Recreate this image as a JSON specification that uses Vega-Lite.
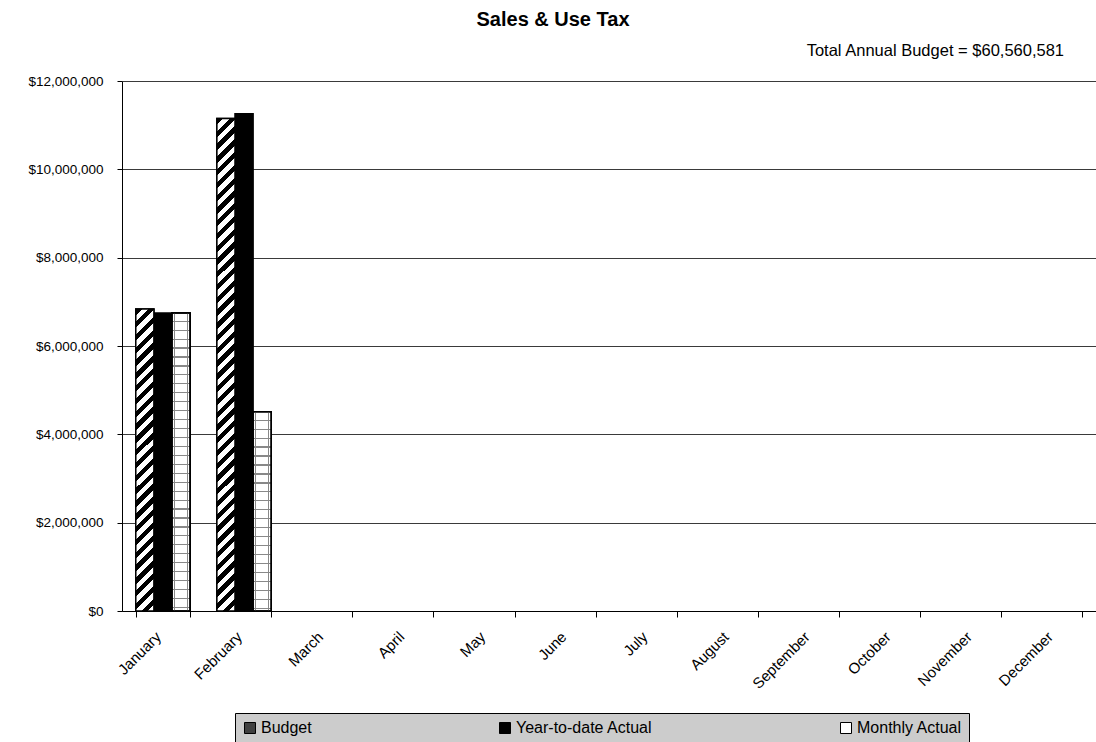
{
  "$schema": "https://vega.github.io/schema/vega-lite/v6.json",
  "width": 974,
  "height": 530,
  "autosize": {"type": "none"},
  "padding": {"left": 122, "top": 81, "right": 0, "bottom": 131},
  "background": "white",
  "config": {
    "view": {"stroke": null},
    "font": "Liberation Sans",
    "axisX": {"labelFont": "Liberation Sans", "labelFontSize": 15, "labelColor": "black", "labelAngle": -45, "labelAlign": "right", "labelBaseline": "top", "labelOffset": -10, "tickColor": "black", "tickSize": 6, "domainColor": "black", "labelPadding": 12, "grid": false, "title": null},
    "axisY": {"labelFont": "Liberation Sans", "labelFontSize": 13.5, "labelColor": "black", "tickColor": "black", "tickSize": 5, "domainColor": "black", "gridColor": "#3a3a3a", "gridWidth": 1, "labelPadding": 14, "title": null}
  },
  "title": {"text": "Sales & Use Tax", "anchor": "middle", "frame": "group", "dx": -56, "offset": 13, "font": "Liberation Sans", "fontSize": 20, "fontWeight": "bold", "color": "black"},
  "layer": [
    {
      "data": {"values": [
        {"month": "January", "series": "Budget", "value": 6840000},
        {"month": "January", "series": "Year-to-date Actual", "value": 6750000},
        {"month": "January", "series": "Monthly Actual", "value": 6750000},
        {"month": "February", "series": "Budget", "value": 11150000},
        {"month": "February", "series": "Year-to-date Actual", "value": 11260000},
        {"month": "February", "series": "Monthly Actual", "value": 4510000}
      ]},
      "encoding": {
        "x": {"field": "month", "type": "ordinal",
          "scale": {"domain": ["January","February","March","April","May","June","July","August","September","October","November","December"], "paddingInner": 0.33, "paddingOuter": 0.17},
          "axis": {"title": null, "labelAngle": -45, "tickBand": "extent", "labelFontSize": 15, "labelAlign": "right", "labelBaseline": "top", "labelOffset": -10, "labelPadding": 12}},
        "xOffset": {"field": "series", "type": "nominal", "scale": {"domain": ["Budget","Year-to-date Actual","Monthly Actual"], "paddingInner": 0, "paddingOuter": 0}},
        "y": {"field": "value", "type": "quantitative",
          "scale": {"domain": [0, 12000000], "nice": false},
          "axis": {"title": null, "values": [0,2000000,4000000,6000000,8000000,10000000,12000000], "format": "$,.0f", "labelFontSize": 13.5}}
      },
      "layer": [
        {
          "mark": {"type": "bar", "stroke": "black", "strokeWidth": 1.5},
          "encoding": {
            "fill": {"field": "series", "type": "nominal",
              "scale": {"domain": ["Budget","Year-to-date Actual","Monthly Actual"], "range": ["#404040","#000000","#ffffff"]},
              "legend": {"title": null, "orient": "none", "legendX": 113, "legendY": 632, "direction": "horizontal", "symbolType": "square", "symbolSize": 121, "symbolStrokeColor": "black", "symbolStrokeWidth": 1, "labelFont": "Liberation Sans", "labelFontSize": 16, "labelColor": "black", "labelOffset": 3, "columnPadding": 185, "padding": 7, "fillColor": "#cccccc", "strokeColor": "black", "labelLimit": 300}}
          }
        },
        {
          "transform": [{"filter": "datum.series === 'Budget' && datum.month === 'January'"}],
          "mark": {"type": "bar", "stroke": "black", "strokeWidth": 1.5,
            "fill": {"gradient": "linear", "x1": 0, "y1": 0, "x2": 0.06317, "y2": 1.0561, "stops": [
              {"offset":0,"color":"#000"},{"offset":0.02,"color":"#000"},{"offset":0.02,"color":"#fff"},{"offset":0.04,"color":"#fff"},
              {"offset":0.04,"color":"#000"},{"offset":0.06,"color":"#000"},{"offset":0.06,"color":"#fff"},{"offset":0.08,"color":"#fff"},
              {"offset":0.08,"color":"#000"},{"offset":0.10,"color":"#000"},{"offset":0.10,"color":"#fff"},{"offset":0.12,"color":"#fff"},
              {"offset":0.12,"color":"#000"},{"offset":0.14,"color":"#000"},{"offset":0.14,"color":"#fff"},{"offset":0.16,"color":"#fff"},
              {"offset":0.16,"color":"#000"},{"offset":0.18,"color":"#000"},{"offset":0.18,"color":"#fff"},{"offset":0.20,"color":"#fff"},
              {"offset":0.20,"color":"#000"},{"offset":0.22,"color":"#000"},{"offset":0.22,"color":"#fff"},{"offset":0.24,"color":"#fff"},
              {"offset":0.24,"color":"#000"},{"offset":0.26,"color":"#000"},{"offset":0.26,"color":"#fff"},{"offset":0.28,"color":"#fff"},
              {"offset":0.28,"color":"#000"},{"offset":0.30,"color":"#000"},{"offset":0.30,"color":"#fff"},{"offset":0.32,"color":"#fff"},
              {"offset":0.32,"color":"#000"},{"offset":0.34,"color":"#000"},{"offset":0.34,"color":"#fff"},{"offset":0.36,"color":"#fff"},
              {"offset":0.36,"color":"#000"},{"offset":0.38,"color":"#000"},{"offset":0.38,"color":"#fff"},{"offset":0.40,"color":"#fff"},
              {"offset":0.40,"color":"#000"},{"offset":0.42,"color":"#000"},{"offset":0.42,"color":"#fff"},{"offset":0.44,"color":"#fff"},
              {"offset":0.44,"color":"#000"},{"offset":0.46,"color":"#000"},{"offset":0.46,"color":"#fff"},{"offset":0.48,"color":"#fff"},
              {"offset":0.48,"color":"#000"},{"offset":0.50,"color":"#000"},{"offset":0.50,"color":"#fff"},{"offset":0.52,"color":"#fff"},
              {"offset":0.52,"color":"#000"},{"offset":0.54,"color":"#000"},{"offset":0.54,"color":"#fff"},{"offset":0.56,"color":"#fff"},
              {"offset":0.56,"color":"#000"},{"offset":0.58,"color":"#000"},{"offset":0.58,"color":"#fff"},{"offset":0.60,"color":"#fff"},
              {"offset":0.60,"color":"#000"},{"offset":0.62,"color":"#000"},{"offset":0.62,"color":"#fff"},{"offset":0.64,"color":"#fff"},
              {"offset":0.64,"color":"#000"},{"offset":0.66,"color":"#000"},{"offset":0.66,"color":"#fff"},{"offset":0.68,"color":"#fff"},
              {"offset":0.68,"color":"#000"},{"offset":0.70,"color":"#000"},{"offset":0.70,"color":"#fff"},{"offset":0.72,"color":"#fff"},
              {"offset":0.72,"color":"#000"},{"offset":0.74,"color":"#000"},{"offset":0.74,"color":"#fff"},{"offset":0.76,"color":"#fff"},
              {"offset":0.76,"color":"#000"},{"offset":0.78,"color":"#000"},{"offset":0.78,"color":"#fff"},{"offset":0.80,"color":"#fff"},
              {"offset":0.80,"color":"#000"},{"offset":0.82,"color":"#000"},{"offset":0.82,"color":"#fff"},{"offset":0.84,"color":"#fff"},
              {"offset":0.84,"color":"#000"},{"offset":0.86,"color":"#000"},{"offset":0.86,"color":"#fff"},{"offset":0.88,"color":"#fff"},
              {"offset":0.88,"color":"#000"},{"offset":0.90,"color":"#000"},{"offset":0.90,"color":"#fff"},{"offset":0.92,"color":"#fff"},
              {"offset":0.92,"color":"#000"},{"offset":0.94,"color":"#000"},{"offset":0.94,"color":"#fff"},{"offset":0.96,"color":"#fff"},
              {"offset":0.96,"color":"#000"},{"offset":0.98,"color":"#000"},{"offset":0.98,"color":"#fff"},{"offset":1,"color":"#fff"}
            ]}}
        },
        {
          "transform": [{"filter": "datum.series === 'Budget' && datum.month === 'February'"}],
          "mark": {"type": "bar", "stroke": "black", "strokeWidth": 1.5,
            "fill": {"gradient": "linear", "x1": 0, "y1": 0, "x2": 0.03799, "y2": 1.0354, "stops": [
              {"offset":0,"color":"#000"},{"offset":0.0125,"color":"#000"},{"offset":0.0125,"color":"#fff"},{"offset":0.025,"color":"#fff"},
              {"offset":0.025,"color":"#000"},{"offset":0.0375,"color":"#000"},{"offset":0.0375,"color":"#fff"},{"offset":0.05,"color":"#fff"},
              {"offset":0.05,"color":"#000"},{"offset":0.0625,"color":"#000"},{"offset":0.0625,"color":"#fff"},{"offset":0.075,"color":"#fff"},
              {"offset":0.075,"color":"#000"},{"offset":0.0875,"color":"#000"},{"offset":0.0875,"color":"#fff"},{"offset":0.1,"color":"#fff"},
              {"offset":0.1,"color":"#000"},{"offset":0.1125,"color":"#000"},{"offset":0.1125,"color":"#fff"},{"offset":0.125,"color":"#fff"},
              {"offset":0.125,"color":"#000"},{"offset":0.1375,"color":"#000"},{"offset":0.1375,"color":"#fff"},{"offset":0.15,"color":"#fff"},
              {"offset":0.15,"color":"#000"},{"offset":0.1625,"color":"#000"},{"offset":0.1625,"color":"#fff"},{"offset":0.175,"color":"#fff"},
              {"offset":0.175,"color":"#000"},{"offset":0.1875,"color":"#000"},{"offset":0.1875,"color":"#fff"},{"offset":0.2,"color":"#fff"},
              {"offset":0.2,"color":"#000"},{"offset":0.2125,"color":"#000"},{"offset":0.2125,"color":"#fff"},{"offset":0.225,"color":"#fff"},
              {"offset":0.225,"color":"#000"},{"offset":0.2375,"color":"#000"},{"offset":0.2375,"color":"#fff"},{"offset":0.25,"color":"#fff"},
              {"offset":0.25,"color":"#000"},{"offset":0.2625,"color":"#000"},{"offset":0.2625,"color":"#fff"},{"offset":0.275,"color":"#fff"},
              {"offset":0.275,"color":"#000"},{"offset":0.2875,"color":"#000"},{"offset":0.2875,"color":"#fff"},{"offset":0.3,"color":"#fff"},
              {"offset":0.3,"color":"#000"},{"offset":0.3125,"color":"#000"},{"offset":0.3125,"color":"#fff"},{"offset":0.325,"color":"#fff"},
              {"offset":0.325,"color":"#000"},{"offset":0.3375,"color":"#000"},{"offset":0.3375,"color":"#fff"},{"offset":0.35,"color":"#fff"},
              {"offset":0.35,"color":"#000"},{"offset":0.3625,"color":"#000"},{"offset":0.3625,"color":"#fff"},{"offset":0.375,"color":"#fff"},
              {"offset":0.375,"color":"#000"},{"offset":0.3875,"color":"#000"},{"offset":0.3875,"color":"#fff"},{"offset":0.4,"color":"#fff"},
              {"offset":0.4,"color":"#000"},{"offset":0.4125,"color":"#000"},{"offset":0.4125,"color":"#fff"},{"offset":0.425,"color":"#fff"},
              {"offset":0.425,"color":"#000"},{"offset":0.4375,"color":"#000"},{"offset":0.4375,"color":"#fff"},{"offset":0.45,"color":"#fff"},
              {"offset":0.45,"color":"#000"},{"offset":0.4625,"color":"#000"},{"offset":0.4625,"color":"#fff"},{"offset":0.475,"color":"#fff"},
              {"offset":0.475,"color":"#000"},{"offset":0.4875,"color":"#000"},{"offset":0.4875,"color":"#fff"},{"offset":0.5,"color":"#fff"},
              {"offset":0.5,"color":"#000"},{"offset":0.5125,"color":"#000"},{"offset":0.5125,"color":"#fff"},{"offset":0.525,"color":"#fff"},
              {"offset":0.525,"color":"#000"},{"offset":0.5375,"color":"#000"},{"offset":0.5375,"color":"#fff"},{"offset":0.55,"color":"#fff"},
              {"offset":0.55,"color":"#000"},{"offset":0.5625,"color":"#000"},{"offset":0.5625,"color":"#fff"},{"offset":0.575,"color":"#fff"},
              {"offset":0.575,"color":"#000"},{"offset":0.5875,"color":"#000"},{"offset":0.5875,"color":"#fff"},{"offset":0.6,"color":"#fff"},
              {"offset":0.6,"color":"#000"},{"offset":0.6125,"color":"#000"},{"offset":0.6125,"color":"#fff"},{"offset":0.625,"color":"#fff"},
              {"offset":0.625,"color":"#000"},{"offset":0.6375,"color":"#000"},{"offset":0.6375,"color":"#fff"},{"offset":0.65,"color":"#fff"},
              {"offset":0.65,"color":"#000"},{"offset":0.6625,"color":"#000"},{"offset":0.6625,"color":"#fff"},{"offset":0.675,"color":"#fff"},
              {"offset":0.675,"color":"#000"},{"offset":0.6875,"color":"#000"},{"offset":0.6875,"color":"#fff"},{"offset":0.7,"color":"#fff"},
              {"offset":0.7,"color":"#000"},{"offset":0.7125,"color":"#000"},{"offset":0.7125,"color":"#fff"},{"offset":0.725,"color":"#fff"},
              {"offset":0.725,"color":"#000"},{"offset":0.7375,"color":"#000"},{"offset":0.7375,"color":"#fff"},{"offset":0.75,"color":"#fff"},
              {"offset":0.75,"color":"#000"},{"offset":0.7625,"color":"#000"},{"offset":0.7625,"color":"#fff"},{"offset":0.775,"color":"#fff"},
              {"offset":0.775,"color":"#000"},{"offset":0.7875,"color":"#000"},{"offset":0.7875,"color":"#fff"},{"offset":0.8,"color":"#fff"},
              {"offset":0.8,"color":"#000"},{"offset":0.8125,"color":"#000"},{"offset":0.8125,"color":"#fff"},{"offset":0.825,"color":"#fff"},
              {"offset":0.825,"color":"#000"},{"offset":0.8375,"color":"#000"},{"offset":0.8375,"color":"#fff"},{"offset":0.85,"color":"#fff"},
              {"offset":0.85,"color":"#000"},{"offset":0.8625,"color":"#000"},{"offset":0.8625,"color":"#fff"},{"offset":0.875,"color":"#fff"},
              {"offset":0.875,"color":"#000"},{"offset":0.8875,"color":"#000"},{"offset":0.8875,"color":"#fff"},{"offset":0.9,"color":"#fff"},
              {"offset":0.9,"color":"#000"},{"offset":0.9125,"color":"#000"},{"offset":0.9125,"color":"#fff"},{"offset":0.925,"color":"#fff"},
              {"offset":0.925,"color":"#000"},{"offset":0.9375,"color":"#000"},{"offset":0.9375,"color":"#fff"},{"offset":0.95,"color":"#fff"},
              {"offset":0.95,"color":"#000"},{"offset":0.9625,"color":"#000"},{"offset":0.9625,"color":"#fff"},{"offset":0.975,"color":"#fff"},
              {"offset":0.975,"color":"#000"},{"offset":0.9875,"color":"#000"},{"offset":0.9875,"color":"#fff"},{"offset":1,"color":"#fff"}
            ]}}
        },
        {
          "transform": [{"filter": "datum.series === 'Monthly Actual' && datum.month === 'January'"}],
          "mark": {"type": "bar", "stroke": "black", "strokeWidth": 1.5,
            "fill": {"gradient": "linear", "x1": 0, "y1": 0, "x2": 0, "y2": 1, "stops": [
              {"offset":0,"color":"#fff"},{"offset":0.026,"color":"#fff"},{"offset":0.026,"color":"#888"},{"offset":0.03,"color":"#888"},
              {"offset":0.03,"color":"#fff"},{"offset":0.056,"color":"#fff"},{"offset":0.056,"color":"#888"},{"offset":0.06,"color":"#888"},
              {"offset":0.06,"color":"#fff"},{"offset":0.086,"color":"#fff"},{"offset":0.086,"color":"#888"},{"offset":0.09,"color":"#888"},
              {"offset":0.09,"color":"#fff"},{"offset":0.116,"color":"#fff"},{"offset":0.116,"color":"#888"},{"offset":0.12,"color":"#888"},
              {"offset":0.12,"color":"#fff"},{"offset":0.146,"color":"#fff"},{"offset":0.146,"color":"#888"},{"offset":0.15,"color":"#888"},
              {"offset":0.15,"color":"#fff"},{"offset":0.176,"color":"#fff"},{"offset":0.176,"color":"#888"},{"offset":0.18,"color":"#888"},
              {"offset":0.18,"color":"#fff"},{"offset":0.206,"color":"#fff"},{"offset":0.206,"color":"#888"},{"offset":0.21,"color":"#888"},
              {"offset":0.21,"color":"#fff"},{"offset":0.236,"color":"#fff"},{"offset":0.236,"color":"#888"},{"offset":0.24,"color":"#888"},
              {"offset":0.24,"color":"#fff"},{"offset":0.266,"color":"#fff"},{"offset":0.266,"color":"#888"},{"offset":0.27,"color":"#888"},
              {"offset":0.27,"color":"#fff"},{"offset":0.296,"color":"#fff"},{"offset":0.296,"color":"#888"},{"offset":0.3,"color":"#888"},
              {"offset":0.3,"color":"#fff"},{"offset":0.326,"color":"#fff"},{"offset":0.326,"color":"#888"},{"offset":0.33,"color":"#888"},
              {"offset":0.33,"color":"#fff"},{"offset":0.356,"color":"#fff"},{"offset":0.356,"color":"#888"},{"offset":0.36,"color":"#888"},
              {"offset":0.36,"color":"#fff"},{"offset":0.386,"color":"#fff"},{"offset":0.386,"color":"#888"},{"offset":0.39,"color":"#888"},
              {"offset":0.39,"color":"#fff"},{"offset":0.416,"color":"#fff"},{"offset":0.416,"color":"#888"},{"offset":0.42,"color":"#888"},
              {"offset":0.42,"color":"#fff"},{"offset":0.446,"color":"#fff"},{"offset":0.446,"color":"#888"},{"offset":0.45,"color":"#888"},
              {"offset":0.45,"color":"#fff"},{"offset":0.476,"color":"#fff"},{"offset":0.476,"color":"#888"},{"offset":0.48,"color":"#888"},
              {"offset":0.48,"color":"#fff"},{"offset":0.506,"color":"#fff"},{"offset":0.506,"color":"#888"},{"offset":0.51,"color":"#888"},
              {"offset":0.51,"color":"#fff"},{"offset":0.536,"color":"#fff"},{"offset":0.536,"color":"#888"},{"offset":0.54,"color":"#888"},
              {"offset":0.54,"color":"#fff"},{"offset":0.566,"color":"#fff"},{"offset":0.566,"color":"#888"},{"offset":0.57,"color":"#888"},
              {"offset":0.57,"color":"#fff"},{"offset":0.596,"color":"#fff"},{"offset":0.596,"color":"#888"},{"offset":0.6,"color":"#888"},
              {"offset":0.6,"color":"#fff"},{"offset":0.626,"color":"#fff"},{"offset":0.626,"color":"#888"},{"offset":0.63,"color":"#888"},
              {"offset":0.63,"color":"#fff"},{"offset":0.656,"color":"#fff"},{"offset":0.656,"color":"#888"},{"offset":0.66,"color":"#888"},
              {"offset":0.66,"color":"#fff"},{"offset":0.686,"color":"#fff"},{"offset":0.686,"color":"#888"},{"offset":0.69,"color":"#888"},
              {"offset":0.69,"color":"#fff"},{"offset":0.716,"color":"#fff"},{"offset":0.716,"color":"#888"},{"offset":0.72,"color":"#888"},
              {"offset":0.72,"color":"#fff"},{"offset":0.746,"color":"#fff"},{"offset":0.746,"color":"#888"},{"offset":0.75,"color":"#888"},
              {"offset":0.75,"color":"#fff"},{"offset":0.776,"color":"#fff"},{"offset":0.776,"color":"#888"},{"offset":0.78,"color":"#888"},
              {"offset":0.78,"color":"#fff"},{"offset":0.806,"color":"#fff"},{"offset":0.806,"color":"#888"},{"offset":0.81,"color":"#888"},
              {"offset":0.81,"color":"#fff"},{"offset":0.836,"color":"#fff"},{"offset":0.836,"color":"#888"},{"offset":0.84,"color":"#888"},
              {"offset":0.84,"color":"#fff"},{"offset":0.866,"color":"#fff"},{"offset":0.866,"color":"#888"},{"offset":0.87,"color":"#888"},
              {"offset":0.87,"color":"#fff"},{"offset":0.896,"color":"#fff"},{"offset":0.896,"color":"#888"},{"offset":0.9,"color":"#888"},
              {"offset":0.9,"color":"#fff"},{"offset":0.926,"color":"#fff"},{"offset":0.926,"color":"#888"},{"offset":0.93,"color":"#888"},
              {"offset":0.93,"color":"#fff"},{"offset":0.956,"color":"#fff"},{"offset":0.956,"color":"#888"},{"offset":0.96,"color":"#888"},
              {"offset":0.96,"color":"#fff"},{"offset":0.986,"color":"#fff"},{"offset":0.986,"color":"#888"},{"offset":0.99,"color":"#888"},
              {"offset":0.99,"color":"#fff"},{"offset":1,"color":"#fff"}
            ]}}
        },
        {
          "transform": [{"filter": "datum.series === 'Monthly Actual' && datum.month === 'February'"}],
          "mark": {"type": "bar", "stroke": "black", "strokeWidth": 1.5,
            "fill": {"gradient": "linear", "x1": 0, "y1": 0, "x2": 0, "y2": 1, "stops": [
              {"offset":0,"color":"#fff"},{"offset":0.039,"color":"#fff"},{"offset":0.039,"color":"#888"},{"offset":0.045,"color":"#888"},
              {"offset":0.045,"color":"#fff"},{"offset":0.084,"color":"#fff"},{"offset":0.084,"color":"#888"},{"offset":0.09,"color":"#888"},
              {"offset":0.09,"color":"#fff"},{"offset":0.129,"color":"#fff"},{"offset":0.129,"color":"#888"},{"offset":0.135,"color":"#888"},
              {"offset":0.135,"color":"#fff"},{"offset":0.174,"color":"#fff"},{"offset":0.174,"color":"#888"},{"offset":0.18,"color":"#888"},
              {"offset":0.18,"color":"#fff"},{"offset":0.219,"color":"#fff"},{"offset":0.219,"color":"#888"},{"offset":0.225,"color":"#888"},
              {"offset":0.225,"color":"#fff"},{"offset":0.264,"color":"#fff"},{"offset":0.264,"color":"#888"},{"offset":0.27,"color":"#888"},
              {"offset":0.27,"color":"#fff"},{"offset":0.309,"color":"#fff"},{"offset":0.309,"color":"#888"},{"offset":0.315,"color":"#888"},
              {"offset":0.315,"color":"#fff"},{"offset":0.354,"color":"#fff"},{"offset":0.354,"color":"#888"},{"offset":0.36,"color":"#888"},
              {"offset":0.36,"color":"#fff"},{"offset":0.399,"color":"#fff"},{"offset":0.399,"color":"#888"},{"offset":0.405,"color":"#888"},
              {"offset":0.405,"color":"#fff"},{"offset":0.444,"color":"#fff"},{"offset":0.444,"color":"#888"},{"offset":0.45,"color":"#888"},
              {"offset":0.45,"color":"#fff"},{"offset":0.489,"color":"#fff"},{"offset":0.489,"color":"#888"},{"offset":0.495,"color":"#888"},
              {"offset":0.495,"color":"#fff"},{"offset":0.534,"color":"#fff"},{"offset":0.534,"color":"#888"},{"offset":0.54,"color":"#888"},
              {"offset":0.54,"color":"#fff"},{"offset":0.579,"color":"#fff"},{"offset":0.579,"color":"#888"},{"offset":0.585,"color":"#888"},
              {"offset":0.585,"color":"#fff"},{"offset":0.624,"color":"#fff"},{"offset":0.624,"color":"#888"},{"offset":0.63,"color":"#888"},
              {"offset":0.63,"color":"#fff"},{"offset":0.669,"color":"#fff"},{"offset":0.669,"color":"#888"},{"offset":0.675,"color":"#888"},
              {"offset":0.675,"color":"#fff"},{"offset":0.714,"color":"#fff"},{"offset":0.714,"color":"#888"},{"offset":0.72,"color":"#888"},
              {"offset":0.72,"color":"#fff"},{"offset":0.759,"color":"#fff"},{"offset":0.759,"color":"#888"},{"offset":0.765,"color":"#888"},
              {"offset":0.765,"color":"#fff"},{"offset":0.804,"color":"#fff"},{"offset":0.804,"color":"#888"},{"offset":0.81,"color":"#888"},
              {"offset":0.81,"color":"#fff"},{"offset":0.849,"color":"#fff"},{"offset":0.849,"color":"#888"},{"offset":0.855,"color":"#888"},
              {"offset":0.855,"color":"#fff"},{"offset":0.894,"color":"#fff"},{"offset":0.894,"color":"#888"},{"offset":0.9,"color":"#888"},
              {"offset":0.9,"color":"#fff"},{"offset":0.939,"color":"#fff"},{"offset":0.939,"color":"#888"},{"offset":0.945,"color":"#888"},
              {"offset":0.945,"color":"#fff"},{"offset":0.984,"color":"#fff"},{"offset":0.984,"color":"#888"},{"offset":0.99,"color":"#888"},
              {"offset":0.99,"color":"#fff"},{"offset":1,"color":"#fff"}
            ]}}
        },
        {
          "transform": [{"filter": "datum.series === 'Monthly Actual'"}],
          "mark": {"type": "bar", "stroke": "black", "strokeWidth": 1.5,
            "fill": {"gradient": "linear", "x1": 0, "y1": 0, "x2": 1, "y2": 0, "stops": [
              {"offset":0,"color":"rgba(0,0,0,0)"},{"offset":0.1,"color":"rgba(0,0,0,0)"},{"offset":0.1,"color":"#888"},{"offset":0.16,"color":"#888"},
              {"offset":0.16,"color":"rgba(0,0,0,0)"},{"offset":0.84,"color":"rgba(0,0,0,0)"},{"offset":0.84,"color":"#888"},{"offset":0.9,"color":"#888"},
              {"offset":0.9,"color":"rgba(0,0,0,0)"},{"offset":1,"color":"rgba(0,0,0,0)"}
            ]}}
        }
      ]
    },
    {
      "data": {"values": [{"label": "Total Annual Budget = $60,560,581"}]},
      "mark": {"type": "text", "align": "right", "baseline": "alphabetic", "dx": 9, "dy": -25, "font": "Liberation Sans", "fontSize": 16.5, "color": "black"},
      "encoding": {
        "x": {"datum": "December", "type": "ordinal"},
        "y": {"datum": 12000000, "type": "quantitative"},
        "text": {"field": "label", "type": "nominal"}
      }
    }
  ]
}
